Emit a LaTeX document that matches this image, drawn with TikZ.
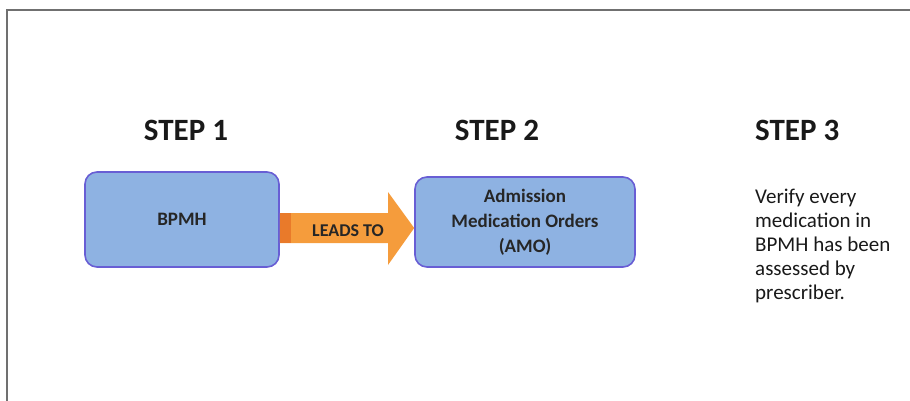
\documentclass[tikz,border=0pt]{standalone}
\usepackage{fontspec}
\setmainfont{Carlito}
\usepackage{xcolor}
\usepackage{tikz}
\usetikzlibrary{calc}
\usetikzlibrary{shapes,arrows,positioning}
\definecolor{boxblue}{RGB}{142,178,226}
\definecolor{boxline}{RGB}{104,94,212}
\definecolor{leadorange}{RGB}{245,156,60}
\definecolor{leaddark}{RGB}{233,122,42}
\definecolor{framegray}{RGB}{112,112,112}
\begin{document}
\begin{tikzpicture}[x=1pt,y=-1pt,
		stepbox/.style={draw=boxline,fill=boxblue,line width=1.6pt,rounded corners=12pt,align=center,font=\fontsize{19}{25}\selectfont\bfseries,text=black!85},
		steptitle/.style={anchor=base,font=\fontsize{31}{36}\selectfont\bfseries,text=black!90}]
		\useasboundingbox (0,0) rectangle (910,400);
		\draw[framegray,line width=2.2pt] (7,402) -- (7,10) -- (912,10);
		\node[steptitle] (step1) at (186,140) {STEP 1};
		\node[steptitle] (step2) at (497,140) {STEP 2};
		\node[steptitle,anchor=base west,inner sep=0pt] (step3) at (755,140) {STEP 3};
		\node[stepbox,minimum width=194,minimum height=95] (bpmh) at (182,219.5) {BPMH};
		\node[stepbox,minimum width=220,minimum height=90] (amo) at (525,222) {Admission\\Medication Orders\\(AMO)};
		\fill[leadorange] (bpmh.east |- 0,213) -- (388,213) -- (388,192) -- (amo.west |- 0,228) -- (388,265) -- (388,243) -- (bpmh.east |- 0,243) -- cycle;
		\fill[leaddark] (bpmh.east |- 0,213) rectangle (291,243);
		\node[font=\fontsize{18}{20}\selectfont\bfseries,text=black!85] (leads) at (348,231) {LEADS TO};
		\node[anchor=north west,inner sep=0pt,align=left,font=\fontsize{21}{24}\selectfont,text=black!90] (verify) at (755,189) {Verify every\\medication in\\BPMH has been\\assessed by\\prescriber.};
	\end{tikzpicture}
\end{document}
